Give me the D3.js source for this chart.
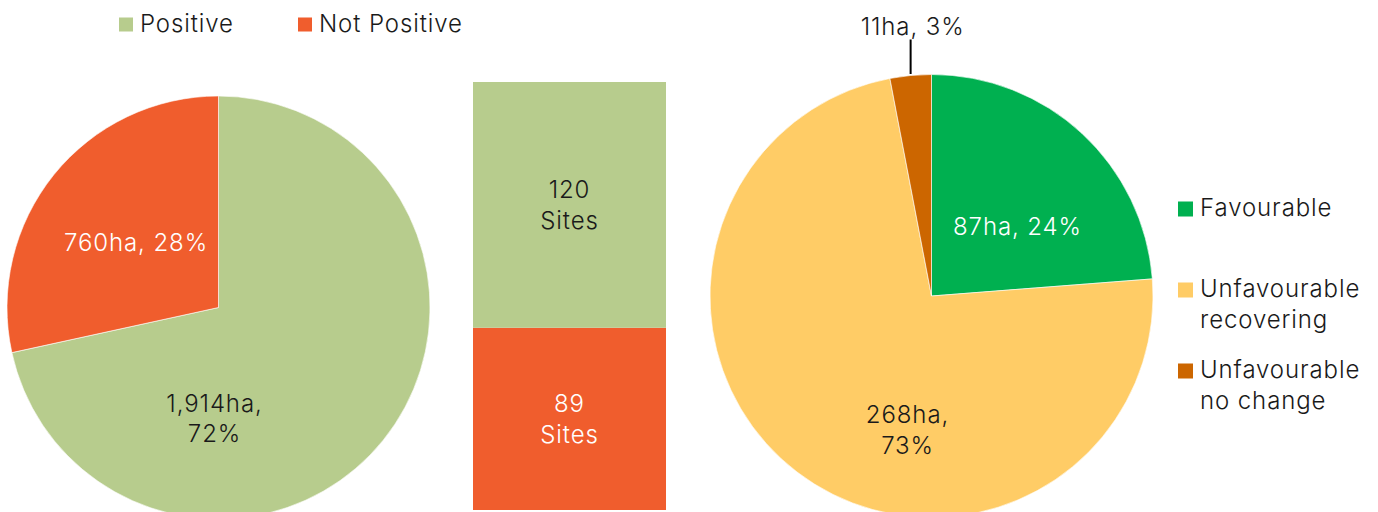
<!DOCTYPE html>
<html><head><meta charset="utf-8">
<script src="https://cdn.jsdelivr.net/npm/d3@7"></script>
<style>
html,body{margin:0;padding:0;background:#fff;}
svg{display:block;}
text{font-family:Inter, "Noto Sans", sans-serif;font-weight:300;letter-spacing:0.9px;}
</style></head>
<body>
<svg id="chart" width="1378" height="512"></svg>
<script>
// Left pie: area by status
const areaCategories = ["Positive", "Not Positive"];
const areaValues = [1914, 760];
const areaPercents = [72, 28];
// Middle stacked bar: site counts
const siteCategories = ["Positive", "Not Positive"];
const siteValues = [120, 89];
// Right pie: condition
const condCategories = ["Favourable", "Unfavourable recovering", "Unfavourable no change"];
const condValues = [87, 268, 11];
const condPercents = [24, 73, 3];

const colorsLeft = ["#B7CC8D", "#F05D2D"];
const colorsRight = ["#00B050", "#FFCC66", "#CC6600"];
const FONT = 24;
const textDark = "#1a1a1a";

const svg = d3.select("#chart");

// ---------- Left pie ----------
const leftC = [218.5, 307.5], leftR = 211.5;
const pieGen = d3.pie().sort(null).value(d => d);
const arcL = d3.arc().innerRadius(0).outerRadius(leftR);
const gL = svg.append("g").attr("transform", `translate(${leftC[0]},${leftC[1]})`);
const leftArcs = pieGen(areaValues);
gL.selectAll("path").data(leftArcs).enter().append("path")
  .attr("d", arcL).attr("fill", (d, i) => colorsLeft[i])
  .attr("stroke", "#fff").attr("stroke-width", 0.6);

const fmt = d3.format(",");
const leftLabelPos = [[-4, 104], [-82.5, -57]];
const leftLabelLines = [
  [fmt(areaValues[0]) + "ha,", areaPercents[0] + "%"],
  [fmt(areaValues[1]) + "ha, " + areaPercents[1] + "%"]
];
const leftLabelColor = [textDark, "#fff"];
leftLabelLines.forEach((lines, i) => {
  const t = gL.append("text").attr("text-anchor", "middle")
    .attr("font-size", FONT).attr("fill", leftLabelColor[i])
    .attr("x", leftLabelPos[i][0]).attr("y", leftLabelPos[i][1]);
  lines.forEach((ln, j) => t.append("tspan").attr("x", leftLabelPos[i][0]).attr("dy", j === 0 ? 0 : 30).text(ln));
});

// Top legend
const legTop = svg.append("g");
const legTopX = [119, 298];
areaCategories.forEach((c, i) => {
  legTop.append("rect").attr("x", legTopX[i]).attr("y", 17.5).attr("width", 14).attr("height", 14).attr("fill", colorsLeft[i]);
  legTop.append("text").attr("x", legTopX[i] + 21).attr("y", 31.5).attr("font-size", FONT).attr("fill", textDark).text(c);
});

// ---------- Middle stacked bar ----------
const barX = 473, barW = 193;
const totalSites = d3.sum(siteValues);
const y = d3.scaleLinear().domain([0, totalSites]).range([510, 82]);
const stackOrder = [1, 0];
let cum = 0;
const segs = stackOrder.map(i => { const s = {i, y0: cum, y1: cum + siteValues[i]}; cum += siteValues[i]; return s; });
const gB = svg.append("g");
gB.selectAll("rect").data(segs).enter().append("rect")
  .attr("x", barX).attr("width", barW)
  .attr("y", d => y(d.y1)).attr("height", d => y(d.y0) - y(d.y1))
  .attr("fill", d => colorsLeft[d.i]);
segs.forEach(s => {
  const cy = (y(s.y0) + y(s.y1)) / 2;
  const t = gB.append("text").attr("text-anchor", "middle").attr("font-size", FONT)
    .attr("fill", s.i === 0 ? textDark : "#fff");
  t.append("tspan").attr("x", barX + barW / 2).attr("y", cy - 7).text(siteValues[s.i]);
  t.append("tspan").attr("x", barX + barW / 2).attr("dy", 31).text("Sites");
});

// ---------- Right pie ----------
const rightC = [931.5, 296], rightR = 221.5;
const arcR = d3.arc().innerRadius(0).outerRadius(rightR);
const gR = svg.append("g").attr("transform", `translate(${rightC[0]},${rightC[1]})`);
const rightArcs = pieGen(condValues);
gR.selectAll("path").data(rightArcs).enter().append("path")
  .attr("d", arcR).attr("fill", (d, i) => colorsRight[i])
  .attr("stroke", "#fff").attr("stroke-width", 0.6);

gR.append("text").attr("text-anchor", "middle").attr("font-size", FONT).attr("fill", "#fff")
  .attr("x", 86).attr("y", -61).text(condValues[0] + "ha, " + condPercents[0] + "%");
const tr = gR.append("text").attr("text-anchor", "middle").attr("font-size", FONT).attr("fill", textDark);
tr.append("tspan").attr("x", -24).attr("y", 127).text(condValues[1] + "ha,");
tr.append("tspan").attr("x", -24).attr("dy", 31).text(condPercents[1] + "%");
const nc = rightArcs[2];
const ncMid = (nc.startAngle + nc.endAngle) / 2;
const lx = rightR * Math.sin(ncMid);
gR.append("line").attr("x1", lx).attr("x2", lx)
  .attr("y1", -rightR - 0.5).attr("y2", -rightR - 35)
  .attr("stroke", "#000").attr("stroke-width", 2);
gR.append("text").attr("text-anchor", "middle").attr("font-size", FONT).attr("fill", textDark)
  .attr("x", lx + 2).attr("y", -rightR - 40).text(condValues[2] + "ha, " + condPercents[2] + "%");

// Right legend
const legR = svg.append("g");
const legRows = [[ "Favourable" ], [ "Unfavourable", "recovering" ], [ "Unfavourable", "no change" ]];
const legRY = [216, 297, 378];
legRows.forEach((lines, i) => {
  legR.append("rect").attr("x", 1178).attr("y", legRY[i] - 14.5).attr("width", 15).attr("height", 15).attr("fill", colorsRight[i]);
  const t = legR.append("text").attr("font-size", FONT).attr("fill", textDark);
  lines.forEach((ln, j) => t.append("tspan").attr("x", 1200).attr("y", legRY[i] + j * 31).text(ln));
});
</script>
</body></html>
